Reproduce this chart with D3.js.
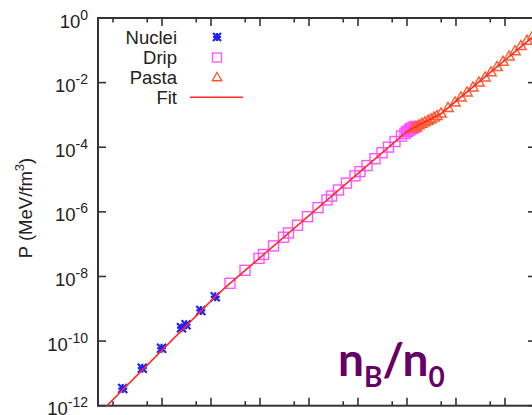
<!DOCTYPE html>
<html>
<head>
<meta charset="utf-8">
<script src="https://cdn.jsdelivr.net/npm/d3@7"></script>
<style>
  html, body { margin: 0; padding: 0; background: #fff; }
  svg { display: block; }
</style>
</head>
<body>
<div id="chart"></div>
<script>
// données (nB/n0 , P en MeV/fm^3)
const nucleiX = [1.58e-8, 3.96e-8, 9.8e-8, 2.5e-7, 3.1e-7, 6.2e-7, 1.22e-6];
const nucleiY = [3.4e-12, 1.45e-11, 6.0e-11, 2.6e-10, 3.2e-10, 8.9e-10, 2.35e-9];

const dripX = [2.44e-6, 4.94e-6, 9.55e-6, 1.18e-5, 1.89e-5, 3.02e-5, 3.82e-5, 5.82e-5,
  9.31e-5, 1.53e-4, 2.33e-4, 2.88e-4, 4.0e-4, 5.82e-4, 8.69e-4, 1.1e-3, 1.53e-3,
  2.22e-3, 3.09e-3, 4.19e-3, 5.69e-3, 7.73e-3, 9.1e-3, 9.77e-3, 1.02e-2,
  1.10e-2, 1.15e-2, 1.18e-2, 1.24e-2, 1.26e-2, 1.32e-2, 1.36e-2, 1.42e-2, 1.46e-2, 1.56e-2];
const dripY = [6.15e-9, 1.55e-8, 3.63e-8, 4.8e-8, 8.85e-8, 1.64e-7, 2.22e-7, 3.85e-7,
  7.1e-7, 1.35e-6, 2.33e-6, 3.08e-6, 4.73e-6, 7.74e-6, 1.3e-5, 1.76e-5, 2.71e-5,
  4.41e-5, 6.76e-5, 1.01e-4, 1.5e-4, 2.22e-4, 2.67e-4, 3.02e-4, 3.08e-4,
  3.31e-4, 3.68e-4, 3.56e-4, 3.77e-4, 3.82e-4, 4.10e-4, 4.02e-4, 4.35e-4, 4.26e-4, 4.41e-4];

const pastaX = [1.32e-2, 1.53e-2, 1.76e-2, 2.02e-2, 2.33e-2, 2.69e-2, 3.09e-2, 3.56e-2,
  4.09e-2, 4.94e-2, 6.87e-2, 9.55e-2, 0.126, 0.168, 0.222, 0.294, 0.391, 0.518,
  0.687, 0.91, 1.21, 1.6, 2.12, 2.81, 3.73];
const pastaY = [3.82e-4, 4.31e-4, 4.83e-4, 5.38e-4, 5.99e-4, 6.66e-4, 7.41e-4, 8.31e-4,
  9.31e-4, 1.11e-3, 1.65e-3, 2.44e-3, 3.48e-3, 4.98e-3, 7.1e-3, 1.01e-2, 1.45e-2,
  2.1e-2, 3.06e-2, 4.44e-2, 6.47e-2, 9.44e-2, 0.137, 0.198, 0.289];

const fitX = [5.43e-9, 1.22e-6, 2.44e-6, 1.0e-2, 1.39e-2, 4.94e-2, 5.18];
const fitY = [6.1e-13, 2.37e-9, 6.07e-9, 3.08e-4, 4.10e-4, 1.09e-3, 0.40];

const yTickValues = [1e-12, 1e-10, 1e-8, 1e-6, 1e-4, 1e-2, 1e0];
const yTickExp = ["-12", "-10", "-8", "-6", "-4", "-2", "0"];
const xMajorTicks = [1e-7, 1e-6, 1e-5, 1e-4, 1e-3, 1e-2, 1e-1, 1e0];
const xMinorTicks = [1e-8, 5e-8, 5e-7, 5e-6, 5e-5, 5e-4, 5e-3, 5e-2, 5e-1];
const legendLabels = ["Nuclei", "Drip", "Pasta", "Fit"];

const width = 532;
const height = 415;
const mLeft = 98, mRight = 536, mTop = 18, mBottom = 405.7;

const svg = d3.select("#chart").append("svg")
  .attr("width", width)
  .attr("height", height)
  .style("font-family", "'Liberation Sans', Arial, sans-serif");

const x = d3.scaleLog().domain([Math.pow(10, -8.306), Math.pow(10, 0.633)]).range([mLeft, mRight]);
const y = d3.scaleLog().domain([1e-12, 1e0]).range([mBottom, mTop]);

const axisColor = "#333";

// ticks
const tickLen = 8, minorLen = 4.5;
const tg = svg.append("g").attr("stroke", axisColor).attr("stroke-width", 1.6);
xMajorTicks.forEach(v => {
  tg.append("line").attr("x1", x(v)).attr("x2", x(v)).attr("y1", mBottom).attr("y2", mBottom - tickLen);
  tg.append("line").attr("x1", x(v)).attr("x2", x(v)).attr("y1", mTop).attr("y2", mTop + tickLen);
});
xMinorTicks.forEach(v => {
  tg.append("line").attr("x1", x(v)).attr("x2", x(v)).attr("y1", mBottom).attr("y2", mBottom - minorLen);
  tg.append("line").attr("x1", x(v)).attr("x2", x(v)).attr("y1", mTop).attr("y2", mTop + minorLen);
});
yTickValues.forEach(v => {
  tg.append("line").attr("x1", mLeft).attr("x2", mLeft + tickLen).attr("y1", y(v)).attr("y2", y(v));
  tg.append("line").attr("x1", mRight).attr("x2", mRight - tickLen).attr("y1", y(v)).attr("y2", y(v));
});

// cadre
svg.append("rect")
  .attr("x", mLeft).attr("y", mTop)
  .attr("width", mRight - mLeft).attr("height", mBottom - mTop)
  .attr("fill", "none").attr("stroke", axisColor).attr("stroke-width", 2);

// étiquettes de l'axe Y
yTickValues.forEach((v, i) => {
  const t = svg.append("text")
    .attr("x", 88)
    .attr("y", y(v) + 9.5)
    .attr("text-anchor", "end")
    .attr("fill", "#222")
    .style("font-size", "18.5px");
  t.append("tspan").text("10");
  t.append("tspan").attr("dy", -8).style("font-size", "14px").text(yTickExp[i]);
});

// titre axe Y
const yl = svg.append("text")
  .attr("transform", "translate(32,208) rotate(-90)")
  .attr("text-anchor", "middle")
  .attr("fill", "#222")
  .style("font-size", "18.5px");
yl.append("tspan").text("P (MeV/fm");
yl.append("tspan").attr("dy", -8).style("font-size", "13px").text("3");
yl.append("tspan").attr("dy", 8).text(")");

// zone de tracé
svg.append("clipPath").attr("id", "clip")
  .append("rect").attr("x", mLeft).attr("y", mTop).attr("width", mRight - mLeft).attr("height", mBottom - mTop);
const plot = svg.append("g").attr("clip-path", "url(#clip)");

const starPath = r => `M${-r},0L${r},0M0,${-r}L0,${r}M${-r},${-r}L${r},${r}M${-r},${r}L${r},${-r}`;
const triPath = r => `M0,${-r}L${r * 0.95},${r * 0.65}L${-r * 0.95},${r * 0.65}Z`;

const blue = "#1f1fff", pink = "#ff55ff", orange = "#ff5a30", red = "#ff2a2a";

// points drip
plot.selectAll(".drip").data(dripX).enter().append("rect")
  .attr("x", (d) => x(d) - 5).attr("y", (d, i) => y(dripY[i]) - 5)
  .attr("width", 10).attr("height", 10)
  .attr("fill", "none").attr("stroke", pink).attr("stroke-width", 1.4);

// points pasta
plot.selectAll(".pasta").data(pastaX).enter().append("path")
  .attr("transform", (d, i) => `translate(${x(d)},${y(pastaY[i])})`)
  .attr("d", triPath(5.5))
  .attr("fill", "none").attr("stroke", orange).attr("stroke-width", 1.4);

// points nuclei
plot.selectAll(".nuc").data(nucleiX).enter().append("path")
  .attr("transform", (d, i) => `translate(${x(d)},${y(nucleiY[i])})`)
  .attr("d", starPath(4.5))
  .attr("fill", "none").attr("stroke", blue).attr("stroke-width", 2.2);

// courbe fit
const line = d3.line().x((d) => x(d)).y((d, i) => y(fitY[i]));
plot.append("path").datum(fitX)
  .attr("d", line)
  .attr("fill", "none").attr("stroke", red).attr("stroke-width", 1.6);

// légende
const legY = [37, 57.5, 77, 97.3];
legendLabels.forEach((lab, i) => {
  svg.append("text")
    .attr("x", 177).attr("y", legY[i] + 6.6)
    .attr("text-anchor", "end").attr("fill", "#222")
    .style("font-size", "18.5px").text(lab);
});
svg.append("path").attr("transform", `translate(217,${legY[0]})`).attr("d", starPath(4))
  .attr("fill", "none").attr("stroke", blue).attr("stroke-width", 2.2);
svg.append("rect").attr("x", 212.5).attr("y", legY[1] - 4.5).attr("width", 9).attr("height", 9)
  .attr("fill", "none").attr("stroke", pink).attr("stroke-width", 1.3);
svg.append("path").attr("transform", `translate(217,${legY[2] + 0.5})`).attr("d", triPath(5))
  .attr("fill", "none").attr("stroke", orange).attr("stroke-width", 1.4);
svg.append("line").attr("x1", 190).attr("x2", 243).attr("y1", legY[3]).attr("y2", legY[3])
  .attr("stroke", red).attr("stroke-width", 1.6);

// annotation nB/n0
const ann = svg.append("text")
  .attr("x", 338).attr("y", 376)
  .attr("fill", "#660066")
  .style("font-family", "Lato, 'Open Sans', sans-serif")
  .style("font-weight", "bold")
  .style("font-size", "46px");
ann.append("tspan").text("n");
ann.append("tspan").attr("dy", 10.5).style("font-size", "28px").text("B");
ann.append("tspan").attr("dy", -10.5).text("/n");
ann.append("tspan").attr("dy", 10.5).style("font-size", "28px").text("0");
</script>
</body>
</html>
